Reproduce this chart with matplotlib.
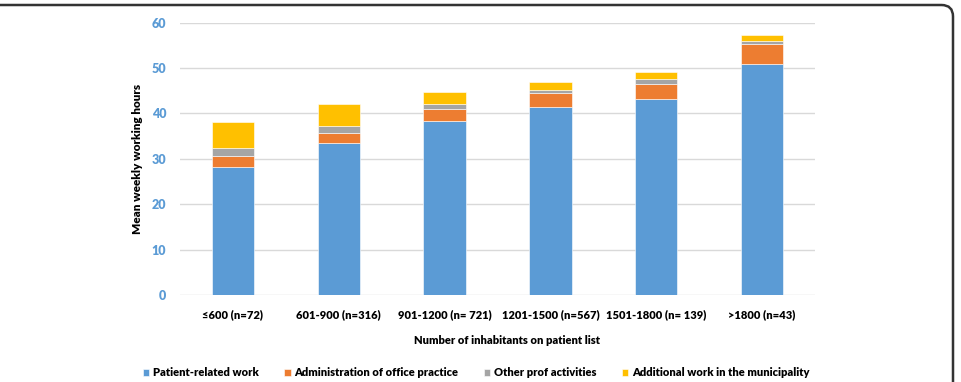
import matplotlib.pyplot as plt
from matplotlib.patches import FancyBboxPatch
import numpy as np

# categories and stacked hour components
groups = ['≤600 (n=72)', '601-900 (n=316)', '901-1200 (n= 721)',
          '1201-1500 (n=567)', '1501-1800 (n= 139)', '>1800 (n=43)']
patient = [28.3, 33.4, 38.3, 41.5, 43.1, 50.8]
admin = [2.4, 2.3, 2.7, 2.9, 3.3, 4.6]
other = [1.8, 1.6, 1.0, 0.8, 1.2, 0.5]
municipal = [5.7, 4.7, 2.8, 1.8, 1.6, 1.4]

series = ['Patient-related work', 'Administration of office practice',
          'Other prof activities', 'Additional work in the municipality']
colors = ['#5B9BD5', '#ED7D31', '#A5A5A5', '#FFC000']

plt.rcParams['font.family'] = ['Lato', 'DejaVu Sans']
plt.rcParams['font.weight'] = 'heavy'

fig = plt.figure(figsize=(9.61, 3.82), dpi=100)
ax = fig.add_axes([180/961, 1 - 295/382, 635/961, 272.3/382])

x = np.arange(len(groups))
bottom = np.zeros(len(groups))
for vals, name, c in zip([patient, admin, other, municipal], series, colors):
    ax.bar(x, vals, 0.4, bottom=bottom, color=c, label=name,
           edgecolor='white', linewidth=0.4, zorder=3)
    bottom += np.array(vals)

ax.set_xlim(-0.5, len(groups) - 0.5)
ax.set_ylim(0, 60)
ax.set_yticks(range(0, 61, 10))
ax.grid(axis='y', color='#d9d9d9', linewidth=1, zorder=0)
for s in ax.spines.values():
    s.set_visible(False)
ax.tick_params(length=0)
ax.tick_params(axis='y', colors='#5B9BD5', labelsize=9, pad=10)
ax.tick_params(axis='x', labelsize=8, pad=10)
ax.set_xticks(x)
ax.set_xticklabels(groups)

ax.set_ylabel('Mean weekly working hours', fontsize=8.5, fontweight='heavy')
ax.yaxis.set_label_coords(-0.058, 0.5)
fig.text(507/961, 1 - 340/382, 'Number of inhabitants on patient list',
         ha='center', va='center', fontsize=8, fontweight='heavy')

leg = fig.legend(loc='center', bbox_to_anchor=(476/961, 1 - 373/382),
                 ncol=4, frameon=False, fontsize=8, handlelength=0.6,
                 handleheight=0.6, handletextpad=0.3, columnspacing=2.3)

# frame around the figure (rounded top-right corner)
frame = FancyBboxPatch((-0.2, -0.2), 953/961 + 0.2, 1 - 5/382 + 0.2,
                       boxstyle='round,pad=0,rounding_size=0.012',
                       transform=fig.transFigure, fill=False,
                       edgecolor='#333333', linewidth=1.8, mutation_aspect=2.5)
fig.patches.append(frame)

fig.savefig('out.png', dpi=100)
